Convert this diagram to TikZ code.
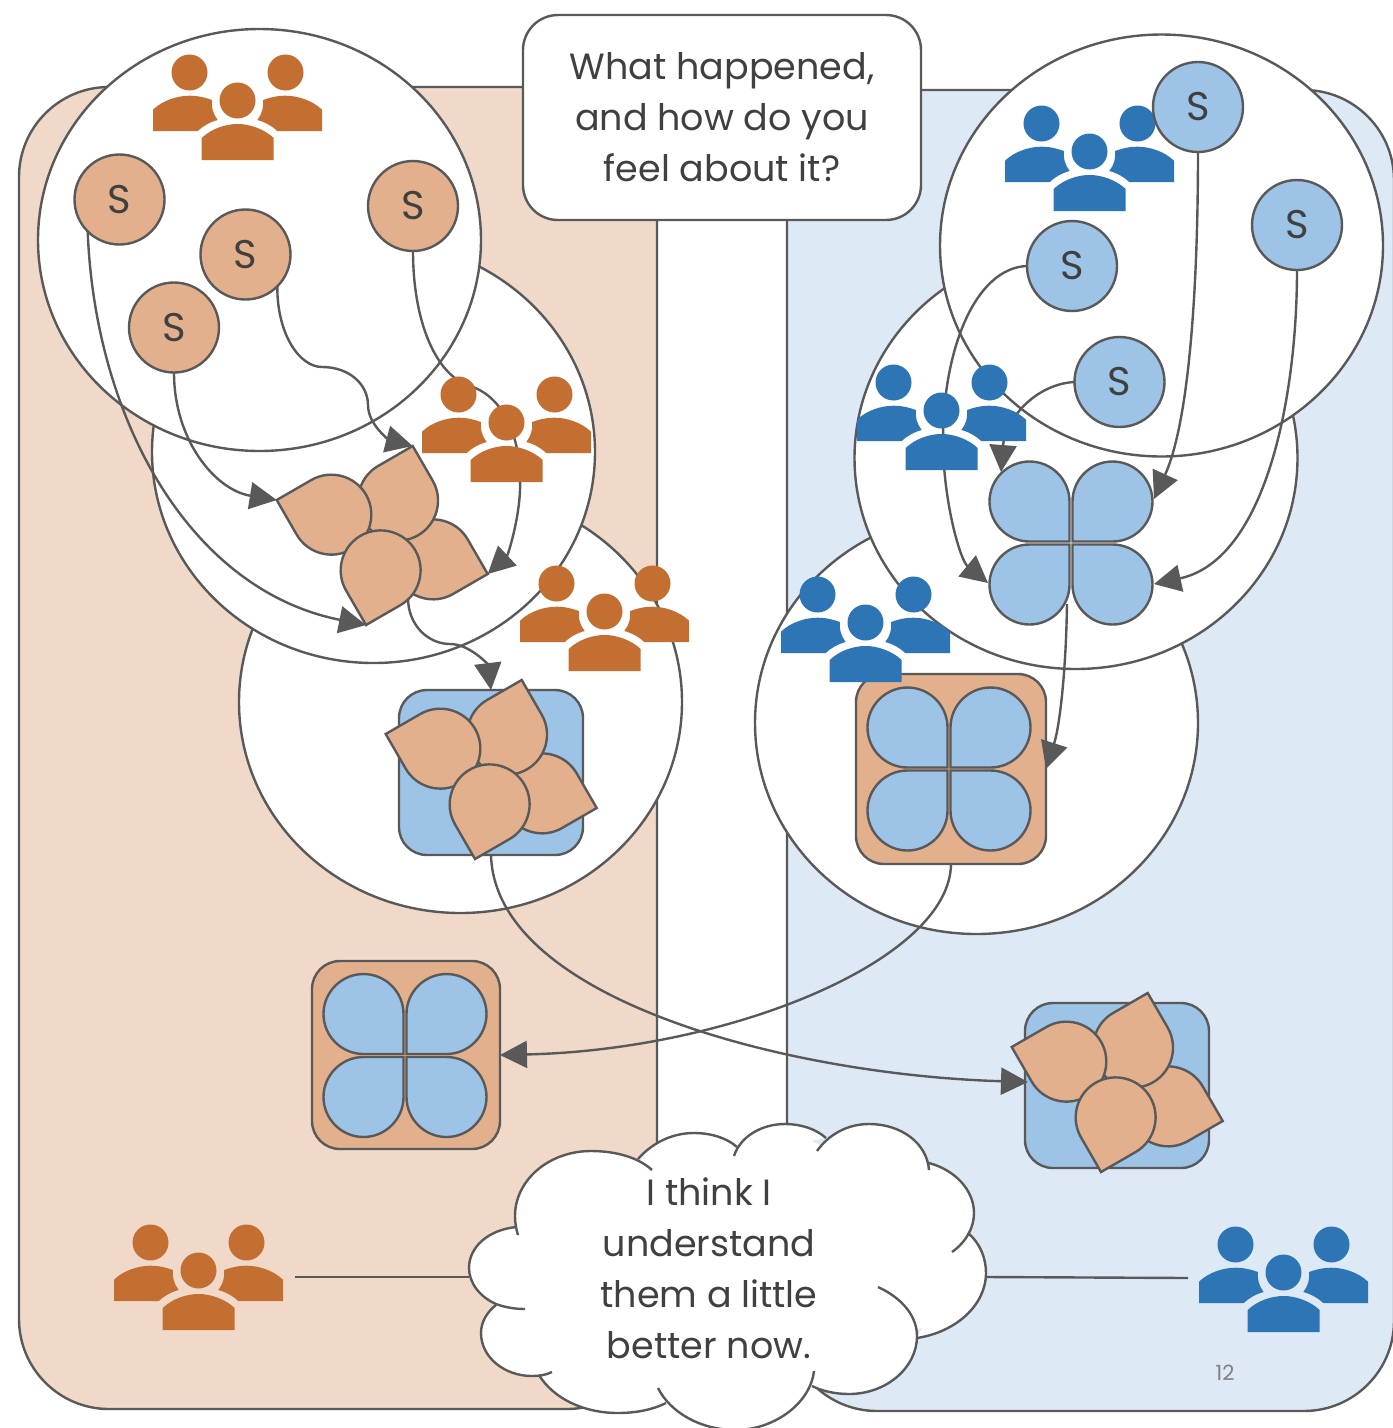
\documentclass[tikz,border=0pt]{standalone}
\usepackage{fontspec}
\setmainfont{Poppins}
\usetikzlibrary{arrows.meta,shapes.geometric}

\definecolor{inkgrey}{HTML}{595959}
\definecolor{textgrey}{HTML}{404040}
\definecolor{sandpanel}{HTML}{F0D9C8}
\definecolor{skypanel}{HTML}{DEE9F6}
\definecolor{sandfill}{HTML}{E2B08D}
\definecolor{skyfill}{HTML}{9DC3E6}
\definecolor{sandicon}{HTML}{C46F32}
\definecolor{skyicon}{HTML}{2E75B6}

\tikzset{
    panel/.style={draw=inkgrey,line width=2.4pt,rounded corners=90pt},
    bigring/.style={ellipse,draw=inkgrey,fill=white,line width=2.4pt,minimum width=443pt,minimum height=422pt,inner sep=0pt,outer sep=0pt},
    sbubble/.style={circle,draw=inkgrey,line width=2.4pt,minimum size=90pt,inner sep=0pt,outer sep=0pt,text=textgrey,font=\fontsize{40}{40}\selectfont},
    tile/.style={draw=inkgrey,line width=2.4pt,rounded corners=28pt,inner sep=0pt,outer sep=0pt},
    petal/.style={draw=inkgrey,line width=2.4pt,line join=miter},
    wire/.style={draw=inkgrey,line width=2.4pt},
    arrowwire/.style={wire,-{Triangle[length=27pt,width=27pt]}},
    saying/.style={align=center,text=textgrey,font=\fontsize{36.5}{51}\selectfont},
    cloudfill/.style={fill=white},
    cloudedge/.style={draw=inkgrey,line width=2.4pt},
}

\newcommand{\petalpath}{(0,0) -- (0,-40) .. controls (0,-62) and (-18,-80) .. (-40,-80) .. controls (-62,-80) and (-80,-62) .. (-80,-40) .. controls (-80,-18) and (-62,0) .. (-40,0) -- cycle}

\newcommand{\leafy}[3]{
    \begin{scope}[shift={(#1,#2)}]
        \draw[petal,fill=sandfill,shift={(101.7,38)},rotate=30] \petalpath;
        \draw[petal,fill=sandfill,shift={(26.7,-90)},rotate=120] \petalpath;
        \draw[petal,fill=sandfill,shift={(-109.3,-36)},rotate=210] \petalpath;
        \draw[petal,fill=sandfill,shift={(-20,89)},rotate=300] \petalpath;
        \coordinate (#3right) at (101.7,38);
        \coordinate (#3top) at (26.7,-90);
        \coordinate (#3left) at (-109.3,-36);
        \coordinate (#3bottom) at (-20,89);
    \end{scope}
}

\newcommand{\clover}[2]{
    \foreach \a in {0,90,180,270}{
        \draw[petal,fill=skyfill,shift={(#1,#2)},rotate=\a,shift={(-1.5,-1.5)}] \petalpath;
    }
}

\newcommand{\crowd}[3]{
    \begin{scope}[shift={(#1,#2)}]
        \fill[#3] (36.5,18.5) circle[radius=18];
        \fill[#3] (132.5,18.5) circle[radius=18];
        \fill[#3] (84.5,46.5) circle[radius=18];
        \fill[#3] (0,77) -- (0,55.7) .. controls (10,46) and (25,41.7) .. (36.5,41.7) .. controls (45,41.7) and (52,43.5) .. (59,46) .. controls (58,53) and (60,60) .. (64.7,66) .. controls (57,68) and (50,72) .. (44.7,77) -- cycle;
        \fill[#3] (169,77) -- (169,55.7) .. controls (159,46) and (144,41.7) .. (132.5,41.7) .. controls (124,41.7) and (117,43.5) .. (110,46) .. controls (111,53) and (109,60) .. (104.3,66) .. controls (112,68) and (119,72) .. (124.3,77) -- cycle;
        \fill[#3] (48.7,106) -- (48.7,84) .. controls (58,75) and (72,70) .. (84.5,70) .. controls (97,70) and (111,75) .. (120.7,84) -- (120.7,106) -- cycle;
    \end{scope}
}

\begin{document}
\begin{tikzpicture}[x=1pt,y=-1pt]
    \useasboundingbox (0,0) rectangle (1393,1428);

    \draw[panel,fill=sandpanel] (19,87) rectangle (657,1409);
    \draw[panel,fill=skypanel] (787,90) rectangle (1394,1411);

    \node[bigring] (ringLc) at (460.5,702) {};
    \node[bigring] (ringLb) at (373.5,452) {};
    \node[bigring] (ringLa) at (259.5,240) {};
    \node[bigring] (ringRc) at (976.5,723) {};
    \node[bigring] (ringRb) at (1076,458) {};
    \node[bigring] (ringRa) at (1161.5,245.5) {};

    \node[tile,fill=skyfill,minimum width=184pt,minimum height=165pt] (tileLc) at (491,772.5) {};
    \node[tile,fill=sandfill,minimum width=190pt,minimum height=190pt] (tileRc) at (951,769) {};
    \node[tile,fill=sandfill,minimum width=188pt,minimum height=188pt] (tileLd) at (406,1055) {};
    \node[tile,fill=skyfill,minimum width=184pt,minimum height=165pt] (tileRd) at (1117,1085.5) {};

    \leafy{386}{536}{leafA}
    \leafy{495}{770}{leafB}
    \leafy{1121}{1083}{leafC}
    \clover{1071}{543}
    \clover{949}{769}
    \clover{405}{1055.5}

    \crowd{153}{54}{sandicon}
    \crowd{1005}{105}{skyicon}

    \node[sbubble,fill=sandfill] (sa) at (119.5,199.5) {S};
    \node[sbubble,fill=sandfill] (sb) at (245.5,254.5) {S};
    \node[sbubble,fill=sandfill] (sc) at (174,327.5) {S};
    \node[sbubble,fill=sandfill] (sd) at (413,206) {S};
    \node[sbubble,fill=skyfill] (se) at (1198,107) {S};
    \node[sbubble,fill=skyfill] (sf) at (1297,225) {S};
    \node[sbubble,fill=skyfill] (sg) at (1072,266) {S};
    \node[sbubble,fill=skyfill] (sh) at (1119.5,382) {S};

    \coordinate (cloverAout) at (1067,604);
    \coordinate (leafAout) at (408,598);
    \coordinate (cloverAul) at (1001,472);
    \coordinate (cloverAur) at (1154,499);
    \coordinate (cloverAll) at (988,583);
    \coordinate (cloverAlr) at (1154,584);
    \coordinate (tileRdin) at (1028,1082);

    \draw[arrowwire] (sa.south west) .. controls (95,420) and (190,590) .. (leafAbottom);
    \draw[arrowwire] (sc.south) .. controls (174,440) and (215,490) .. (leafAleft);
    \draw[arrowwire] (sb.south east) .. controls (277,335) and (300,367) .. (322,367) .. controls (350,367) and (368,385) .. (368,405) .. controls (368,425) and (390,440) .. (leafAtop);
    \draw[arrowwire] (sd.south) .. controls (413,320) and (435,375) .. (470,386) .. controls (505,397) and (522,440) .. (520,490) .. controls (519,520) and (508,555) .. (leafAright);
    \draw[arrowwire] (leafAout) .. controls (408,625) and (428,644) .. (450,644) .. controls (470,644) and (488,665) .. (tileLc.north);
    \draw[arrowwire] (tileLc.south) .. controls (495,1000) and (790,1075) .. (tileRdin);
    \draw[arrowwire] (tileRc.south) .. controls (950,960) and (730,1050) .. (tileLd.east);
    \draw[arrowwire] (se.south) .. controls (1198,280) and (1190,420) .. (cloverAur);
    \draw[arrowwire] (sf.south) .. controls (1297,400) and (1265,560) .. (cloverAlr);
    \draw[arrowwire] (sg.west) .. controls (975,268) and (943,350) .. (943,440) .. controls (943,500) and (960,560) .. (cloverAll);
    \draw[arrowwire] (sh.west) .. controls (1035,384) and (1005,420) .. (cloverAul);
    \draw[arrowwire] (cloverAout) .. controls (1066,670) and (1060,725) .. (tileRc.east);

    \crowd{422}{376}{sandicon}
    \crowd{520}{565}{sandicon}
    \crowd{857}{364}{skyicon}
    \crowd{781}{576}{skyicon}
    \crowd{114}{1224}{sandicon}
    \crowd{1199}{1226}{skyicon}

    \node[draw=inkgrey,fill=white,line width=2.4pt,rounded corners=35pt,minimum width=398pt,minimum height=205pt,saying,inner sep=0pt] (askbox) at (722,117.5) {What happened,\\and how do you\\feel about it?};

    \coordinate (crowdLeft) at (295,1277);
    \coordinate (crowdRight) at (1188,1278);
    \coordinate (cloudLeft) at (469,1277);
    \coordinate (cloudRight) at (987,1277);
    \draw[wire] (crowdLeft) -- (cloudLeft);
    \draw[wire] (cloudRight) -- (crowdRight);

    \fill[white] (515,1216) -- (540,1170) -- (591,1155) -- (640,1160) -- (694,1137) -- (734,1150) -- (785,1128) -- (820,1145) -- (869,1128) -- (915,1155) -- (930,1170) -- (965,1205) -- (960,1240) -- (978,1273) -- (960,1310) -- (917,1330) -- (905,1365) -- (849,1390) -- (812,1385) -- (780,1420) -- (725,1425) -- (666,1400) -- (618,1408) -- (560,1390) -- (539,1372) -- (500,1360) -- (487,1333) -- (496,1305) -- (475,1270) -- (515,1232) -- cycle;
    \foreach \lobe in {cloudfill,cloudedge}{
        \path[\lobe] (638,1159) .. controls (653,1142) and (673,1133) .. (694,1133) .. controls (711,1133) and (727,1138) .. (737,1147);
        \path[\lobe] (734,1156) .. controls (740,1137) and (761,1124) .. (785,1124) .. controls (801,1124) and (816,1129) .. (826,1138);
        \path[\lobe] (817,1151) .. controls (829,1134) and (848,1124) .. (869,1124) .. controls (901,1124) and (927,1143) .. (929,1170);
        \path[\lobe] (929,1163) .. controls (955,1170) and (974,1190) .. (974,1213) .. controls (974,1228) and (966,1242) .. (952,1252);
        \path[\lobe] (968,1233) .. controls (980,1243) and (986,1258) .. (986,1273) .. controls (986,1305) and (956,1332) .. (917,1338);
        \path[\lobe] (878,1287) .. controls (902,1298) and (917,1316) .. (917,1336) .. controls (917,1368) and (886,1394) .. (849,1394) .. controls (835,1394) and (822,1391) .. (812,1386);
        \path[\lobe] (814,1371) .. controls (810,1405) and (772,1430) .. (736,1430) .. controls (700,1430) and (670,1412) .. (658,1388);
        \path[\lobe] (666,1403) .. controls (652,1410) and (635,1413) .. (618,1413) .. controls (583,1413) and (553,1398) .. (539,1375);
        \path[\lobe] (552,1372) .. controls (546,1375) and (539,1376) .. (532,1376) .. controls (504,1376) and (481,1357) .. (481,1333) .. controls (481,1322) and (487,1312) .. (496,1305);
        \path[\lobe] (525,1309) .. controls (514,1309) and (504,1307) .. (496,1304) .. controls (480,1297) and (469,1283) .. (469,1268) .. controls (469,1247) and (488,1230) .. (516,1227);
        \path[\lobe] (518,1235) .. controls (516,1229) and (515,1222) .. (515,1216) .. controls (515,1180) and (549,1151) .. (591,1151) .. controls (617,1151) and (639,1158) .. (652,1170);
    }
    \node[saying] (thought) at (709,1268) {I think I\\understand\\them a little\\better now.};

    \node[text=gray,font=\fontsize{21}{21}\selectfont] (pagenum) at (1225,1373) {12};
\end{tikzpicture}
\end{document}
